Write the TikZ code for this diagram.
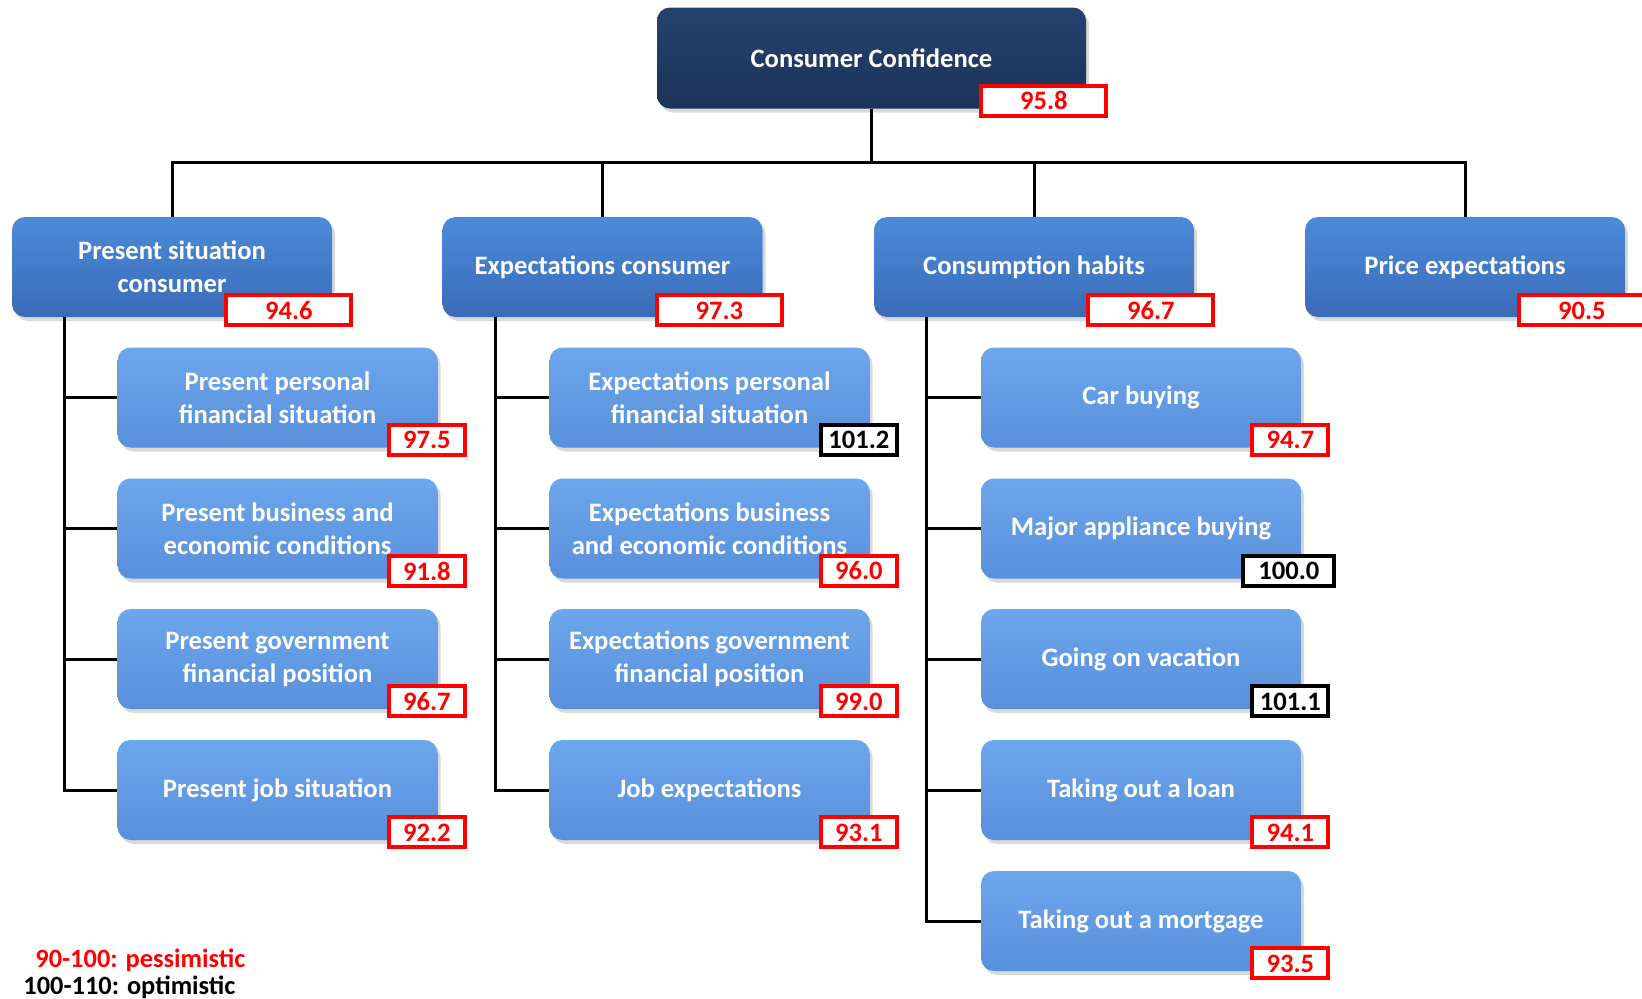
\documentclass[tikz,border=0pt]{standalone}
\usepackage{fontspec}
\setmainfont{Carlito}
\usetikzlibrary{positioning,shadows}
\definecolor{navyTop}{HTML}{25426F}
\definecolor{navyBot}{HTML}{1B3358}
\definecolor{midTop}{HTML}{4C8BD9}
\definecolor{midBot}{HTML}{3A6BB7}
\definecolor{lightTop}{HTML}{6CA6EC}
\definecolor{lightBot}{HTML}{5890DB}
\tikzstyle{box} = [rounded corners=6.5pt, text=white, align=center, inner sep=2pt,
  font=\fontsize{13.3}{16.5}\selectfont\bfseries,
  drop shadow={opacity=0.3, shadow xshift=1.5pt, shadow yshift=-2pt}]
\tikzstyle{root} = [box, top color=navyTop, bottom color=navyBot, minimum width=214.5pt, minimum height=50.5pt]
\tikzstyle{group} = [box, top color=midTop, bottom color=midBot, minimum width=160pt, minimum height=50pt]
\tikzstyle{item} = [box, top color=lightTop, bottom color=lightBot, minimum width=160pt, minimum height=50pt]
\tikzstyle{score} = [fill=white, line width=2pt, inner sep=0pt, minimum height=15pt,
  minimum width=38pt, font=\fontsize{13.3}{15}\selectfont\bfseries]
\tikzstyle{pess} = [score, draw=red, text=red]
\tikzstyle{opt} = [score, draw=black, text=black]
\tikzstyle{optwide} = [opt, minimum width=45.5pt, xshift=3pt]
\tikzstyle{link} = [black, line width=1.5pt]
\newcommand{\drawGroup}[5]{
  \node[group] (#1) at (#2,#3) {#4};
  \node[pess, minimum width=62.5pt, anchor=east] (#1v) at ([xshift=10.5pt,yshift=3.5pt]#1.south east) {#5};
}
\newcommand{\drawItem}[6]{
  \node[item] (#1) at (#2,#3) {#4};
  \node[#6, anchor=east] (#1v) at ([xshift=14.5pt,yshift=4pt]#1.south east) {#5};
}

\begin{document}
\begin{tikzpicture}[x=0.5pt,y=-0.5pt]
  \useasboundingbox (0,0) rectangle (1642,998);

  % top
  \node[root] (cc) at (871.5,58) {Consumer Confidence};
  \node[pess, minimum width=62.5pt, anchor=east] (ccv) at ([xshift=11pt,yshift=4pt]cc.south east) {95.8};
  \coordinate (bus) at (0,162);

  % groups
  \drawGroup{ps}{172}{267}{Present situation\\consumer}{94.6}
  \drawGroup{ec}{602.5}{267}{Expectations consumer}{97.3}
  \drawGroup{ch}{1034}{267}{Consumption habits}{96.7}
  \drawGroup{pe}{1465}{267}{Price expectations}{90.5}

  % present situation
  \drawItem{ps1}{277.5}{397.5}{Present personal\\financial situation}{97.5}{pess}
  \drawItem{ps2}{277.5}{528.5}{Present business and\\economic conditions}{91.8}{pess}
  \drawItem{ps3}{277.5}{659}{Present government\\financial position}{96.7}{pess}
  \drawItem{ps4}{277.5}{790}{Present job situation}{92.2}{pess}

  % expectations
  \drawItem{ec1}{709.5}{397.5}{Expectations personal\\financial situation}{101.2}{opt}
  \drawItem{ec2}{709.5}{528.5}{Expectations business\\and economic conditions}{96.0}{pess}
  \drawItem{ec3}{709.5}{659}{Expectations government\\financial position}{99.0}{pess}
  \drawItem{ec4}{709.5}{790}{Job expectations}{93.1}{pess}

  % consumption
  \drawItem{ch1}{1141}{397.5}{Car buying}{94.7}{pess}
  \drawItem{ch2}{1141}{528.5}{Major appliance buying}{100.0}{optwide}
  \drawItem{ch3}{1141}{659}{Going on vacation}{101.1}{opt}
  \drawItem{ch4}{1141}{790}{Taking out a loan}{94.1}{pess}
  \drawItem{ch5}{1141}{921}{Taking out a mortgage}{93.5}{pess}

  % connectors
  \draw[link] (cc.south) -- (cc.south |- bus);
  \foreach \g in {ps,ec,ch,pe}
    \draw[link] (cc.south |- bus) -| (\g.north);
  \foreach \i in {1,...,4}
    \draw[link] ([xshift=26.5pt]ps.south west) |- (ps\i.west);
  \foreach \i in {1,...,4}
    \draw[link] ([xshift=26.5pt]ec.south west) |- (ec\i.west);
  \foreach \i in {1,...,5}
    \draw[link] ([xshift=26.5pt]ch.south west) |- (ch\i.west);

  % legend
  \node[anchor=west, inner sep=0pt, text=red, font=\fontsize{13.2}{15}\selectfont\bfseries] (legPess) at (35,960) {90-100: pessimistic};
  \node[anchor=west, inner sep=0pt, text=black, font=\fontsize{13.2}{15}\selectfont\bfseries] (legOpt) at (23,987) {100-110: optimistic};
\end{tikzpicture}
\end{document}
